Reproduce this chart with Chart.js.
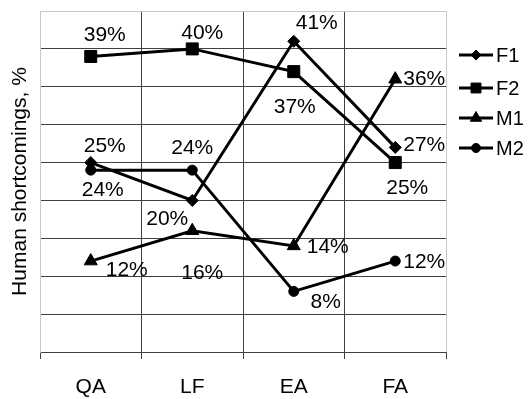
<!DOCTYPE html>
<html>
<head>
<meta charset="utf-8">
<script src="https://cdn.jsdelivr.net/npm/chart.js@4.4.0/dist/chart.umd.min.js"></script>
<style>
  html, body { margin: 0; padding: 0; background: #fff; }
  #wrap { width: 531px; height: 399px; }
</style>
</head>
<body>
<div id="wrap"><canvas id="chart" width="531" height="399"></canvas></div>
<script>
// values, in percent
const categories = ['QA', 'LF', 'EA', 'FA'];
const f1Values = [25, 20, 41, 27];
const f2Values = [39, 40, 37, 25];
const m1Values = [12, 16, 14, 36];
const m2Values = [24, 24, 8, 12];
const seriesNames = ['F1', 'F2', 'M1', 'M2'];

const FONT = '"Liberation Sans", Arial, sans-serif';
const DARK = '#404040';
const LIGHT = '#c8c8c8';

// where each value label sits relative to its point (pixels)
const labelOffsets = [
  [[14, -16], [-25, 19], [23, -18], [29, -2]],
  [[14, -21], [10, -16], [1, 36], [12, 26]],
  [[36, 9], [10, 42], [34, 1], [29, 0]],
  [[12, 20], [0, -22], [32, 11], [29, 1]]
];

const markers = [
  { style: 'rectRot', radius: 6, legendRadius: 5 },
  { style: 'rect', radius: 8.5, legendRadius: 7 },
  { style: 'triangle', radius: 7.5, legendRadius: 6.5 },
  { style: 'circle', radius: 5, legendRadius: 4.5 }
];

function makeDataset(i, values) {
  return {
    label: seriesNames[i],
    data: values,
    borderColor: '#000',
    backgroundColor: '#000',
    borderWidth: 3,
    tension: 0,
    pointStyle: markers[i].style,
    pointRadius: markers[i].radius,
    pointBackgroundColor: '#000',
    pointBorderColor: '#000',
    pointBorderWidth: 1
  };
}

const valueLabels = {
  id: 'valueLabels',
  afterDatasetsDraw(chart) {
    const ctx = chart.ctx;
    ctx.save();
    ctx.font = '21px ' + FONT;
    ctx.fillStyle = '#000';
    ctx.textAlign = 'center';
    ctx.textBaseline = 'middle';
    chart.data.datasets.forEach((ds, di) => {
      const meta = chart.getDatasetMeta(di);
      meta.data.forEach((pt, pi) => {
        const off = labelOffsets[di][pi];
        ctx.fillText(ds.data[pi] + '%', pt.x + off[0], pt.y + off[1]);
      });
    });
    ctx.restore();
  }
};

const sideLegend = {
  id: 'sideLegend',
  afterDraw(chart) {
    const ctx = chart.ctx;
    const rows = [55, 88, 118, 148];
    ctx.save();
    chart.data.datasets.forEach((ds, i) => {
      const y = rows[i];
      ctx.strokeStyle = '#000';
      ctx.lineWidth = 3;
      ctx.beginPath();
      ctx.moveTo(459, y);
      ctx.lineTo(493, y);
      ctx.stroke();
      ctx.fillStyle = '#000';
      ctx.lineWidth = 1;
      Chart.helpers.drawPoint(ctx, {
        pointStyle: markers[i].style,
        radius: markers[i].legendRadius,
        rotation: 0,
        borderWidth: 1
      }, 476, y);
      ctx.font = '20px ' + FONT;
      ctx.textAlign = 'left';
      ctx.textBaseline = 'middle';
      ctx.fillText(ds.label, 496, y + 1);
    });
    ctx.restore();
  }
};

new Chart(document.getElementById('chart'), {
  type: 'line',
  data: {
    labels: categories,
    datasets: [
      makeDataset(0, f1Values),
      makeDataset(1, f2Values),
      makeDataset(2, m1Values),
      makeDataset(3, m2Values)
    ]
  },
  options: {
    responsive: false,
    animation: false,
    layout: { padding: { top: 11, right: 85, left: 0, bottom: 0 } },
    plugins: {
      legend: { display: false },
      tooltip: { enabled: false }
    },
    scales: {
      x: {
        offset: true,
        grid: {
          offset: true,
          color: (c) => (c.type === 'scale' || c.index === 0) ? LIGHT : DARK,
          tickColor: DARK,
          tickLength: 7,
          lineWidth: 1
        },
        border: { color: DARK, width: 1 },
        ticks: {
          color: '#000',
          font: { family: FONT, size: 21 },
          padding: 16
        },
        afterFit: (s) => { s.height = 47; }
      },
      y: {
        min: 0,
        max: 45,
        ticks: { display: false, stepSize: 5 },
        grid: {
          drawTicks: false,
          color: (c) => (c.tick && c.tick.value === 45) ? LIGHT : DARK,
          lineWidth: 1
        },
        border: { color: LIGHT, width: 1 },
        title: {
          display: true,
          text: 'Human shortcomings, %',
          color: '#000',
          font: { family: FONT, size: 21 },
          padding: { top: 8, bottom: 0 }
        },
        afterFit: (s) => { s.width = 40; }
      }
    }
  },
  plugins: [valueLabels, sideLegend]
});
</script>
</body>
</html>
